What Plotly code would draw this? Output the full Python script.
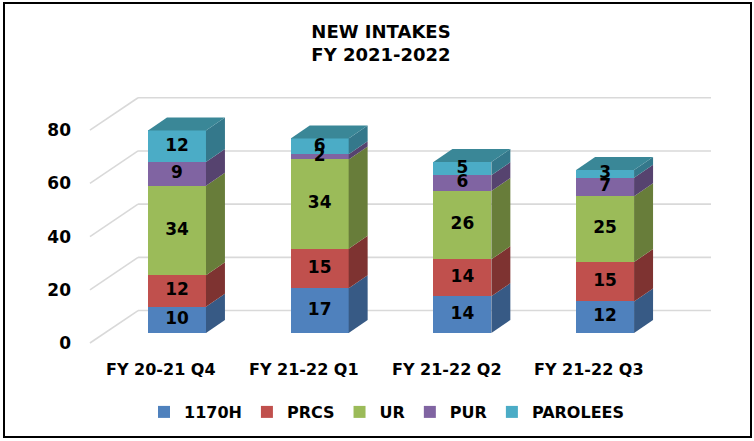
import plotly.graph_objects as go

# ---------------- data ----------------
categories = ["FY 20-21 Q4", "FY 21-22 Q1", "FY 21-22 Q2", "FY 21-22 Q3"]
series_names = ["1170H", "PRCS", "UR", "PUR", "PAROLEES"]
v_1170h = [10, 17, 14, 12]
v_prcs = [12, 15, 14, 15]
v_ur = [34, 34, 26, 25]
v_pur = [9, 2, 6, 7]
v_parolees = [12, 6, 5, 3]
y_ticks = [0, 20, 40, 60, 80]

series_values = [v_1170h, v_prcs, v_ur, v_pur, v_parolees]
front_colors = ["#4F81BD", "#C0504D", "#9BBB59", "#8064A2", "#4BACC6"]
side_colors = ["#375A85", "#7E3331", "#687D3A", "#56436F", "#34788B"]
top_color = "#3A8797"

W, H = 754, 441
FONT = "DejaVu Sans"

# pseudo-3D geometry (in data units)
bar_w = 0.406
dx, dy = 0.133, 4.94          # depth offset of bar faces
g_front_x, g_back_x, g_end_x = -0.61, -0.273, 3.742
g_back_dy = 12.2

idx = list(range(len(categories)))
fig = go.Figure()

# invisible anchor trace for the label axis y2
fig.add_trace(go.Scatter(x=[g_front_x], y=[y_ticks[0]], yaxis="y2", mode="markers",
                         marker=dict(opacity=0), hoverinfo="skip", showlegend=False))

# front faces
for name, vals, col in zip(series_names, series_values, front_colors):
    fig.add_trace(go.Bar(x=idx, y=vals, name=name, width=bar_w,
                         marker=dict(color=col, line=dict(width=0)),
                         hoverinfo="skip"))

# side faces and top faces, derived from the data
base = [0] * len(idx)
for vals, scol in zip(series_values, side_colors):
    for i in idx:
        b, h = base[i], vals[i]
        r = i + bar_w / 2
        fig.add_trace(go.Scatter(
            x=[r, r + dx, r + dx, r, r], y=[b, b + dy, b + h + dy, b + h, b],
            mode="lines", fill="toself", fillcolor=scol,
            line=dict(width=0, color=scol), hoverinfo="skip", showlegend=False))
    base = [base[i] + vals[i] for i in idx]

for i in idx:
    top = base[i]
    l, r = i - bar_w / 2, i + bar_w / 2
    fig.add_trace(go.Scatter(
        x=[l, l + dx, r + dx, r, l], y=[top, top + dy, top + dy, top, top],
        mode="lines", fill="toself", fillcolor=top_color,
        line=dict(width=0, color=top_color), hoverinfo="skip", showlegend=False))

# data labels
base = [0] * len(idx)
lx, ly, lt = [], [], []
for vals in series_values:
    for i in idx:
        lx.append(i)
        ly.append(base[i] + vals[i] / 2)
        lt.append(str(vals[i]))
    base = [base[i] + vals[i] for i in idx]
fig.add_trace(go.Scatter(x=lx, y=ly, text=lt, mode="text",
                         textfont=dict(family=FONT, size=17, color="black", weight="bold"),
                         hoverinfo="skip", showlegend=False))

# category labels
for i, c in zip(idx, categories):
    fig.add_annotation(x=i - 0.11, y=1 - 369 / H, xref="x", yref="paper",
                       text=c, showarrow=False, yanchor="middle",
                       font=dict(family=FONT, size=16, color="black", weight="bold"))

# back-wall gridlines (below all traces)
shapes = []
for t in y_ticks:
    gl = dict(color="#D9D9D9", width=1.6)
    shapes.append(dict(type="line", xref="x", yref="y2", layer="below",
                       x0=g_front_x, y0=t, x1=g_back_x, y1=t + g_back_dy, line=gl))
    shapes.append(dict(type="line", xref="x", yref="y2", layer="below",
                       x0=g_back_x, y0=t + g_back_dy, x1=g_end_x, y1=t + g_back_dy, line=gl))
shapes.append(dict(type="rect", xref="paper", yref="paper",
                   x0=4 / W, x1=751 / W, y0=1 - 437 / H, y1=1 - 3 / H,
                   line=dict(color="black", width=2)))

L, R, T, B = 72, 740, 60, 360
fig.update_layout(
    width=W, height=H, autosize=False,
    margin=dict(l=0, r=0, t=0, b=0),
    paper_bgcolor="white", plot_bgcolor="rgba(0,0,0,0)",
    barmode="stack", bargap=0,
    title=dict(text="NEW INTAKES<br>FY 2021-2022", x=381 / W, xanchor="center",
               y=1 - 38 / H, yanchor="middle",
               font=dict(family=FONT, size=18, color="black", weight="bold")),
    xaxis=dict(domain=[L / W, R / W], range=[(L - 177) / 142.7, (R - 177) / 142.7],
               visible=False),
    yaxis=dict(domain=[1 - B / H, 1 - T / H], range=[(333 - B) / 2.63, (333 - T) / 2.63],
               visible=False),
    yaxis2=dict(overlaying="y", side="left", anchor="x",
                range=[(343 - B) / 2.66, (343 - T) / 2.66],
                tickvals=y_ticks, ticktext=[str(t) for t in y_ticks],
                showgrid=False, zeroline=False, showline=False, ticks="",
                tickfont=dict(family=FONT, size=17, color="black", weight="bold")),
    legend=dict(orientation="h", x=387 / W, xanchor="center", y=1 - 412 / H,
                yanchor="middle", traceorder="normal",
                font=dict(family=FONT, size=16, color="black", weight="bold")),
    shapes=shapes,
)

fig.write_html("out.html", config={"displayModeBar": False},
               post_script="document.body.style.margin='0';document.body.style.padding='0';")
